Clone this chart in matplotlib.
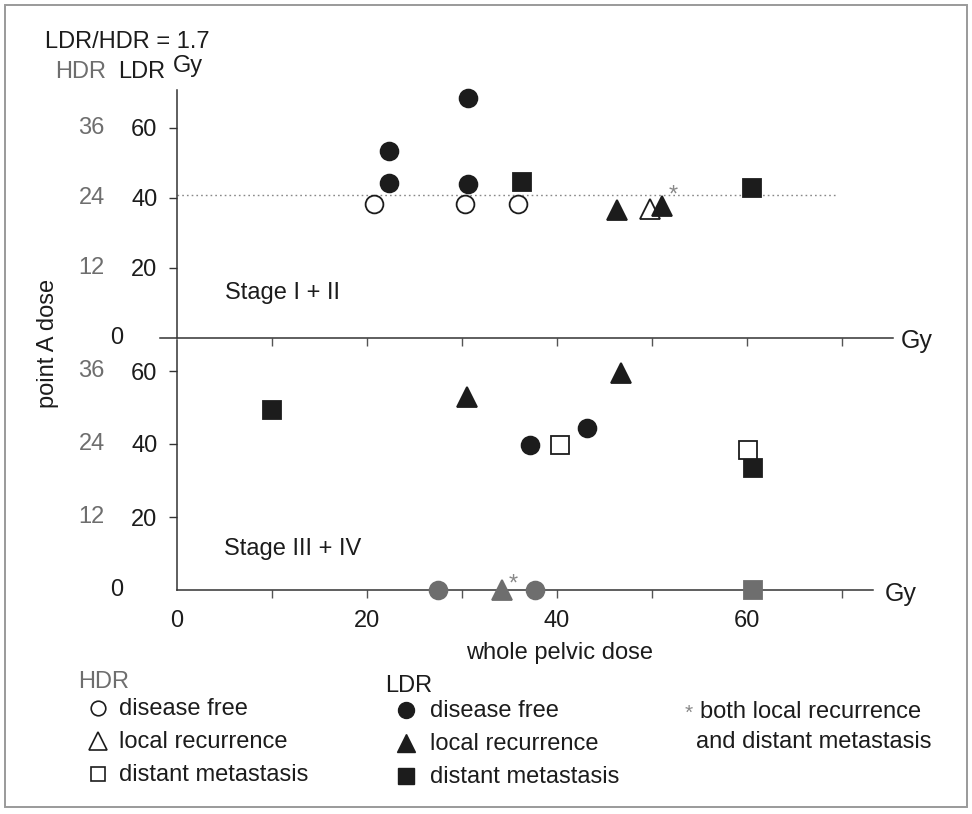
import matplotlib
matplotlib.use("Agg")
import matplotlib.pyplot as plt
from matplotlib.patches import Rectangle

plt.rcParams['font.family'] = ['Liberation Sans', 'DejaVu Sans']

# ---------------- data (whole pelvic dose [Gy], point A LDR-equivalent dose [Gy]) ----------------
# Stage I + II
s12_hdr_free_x = [20.7, 30.3, 35.9]
s12_hdr_free_y = [38.3, 38.3, 38.3]
s12_hdr_local_x = [49.8]
s12_hdr_local_y = [36.9]
s12_ldr_free_x = [22.3, 22.3, 30.6, 30.6]
s12_ldr_free_y = [53.4, 44.3, 68.6, 44.0]
s12_ldr_local_x = [46.3, 51.0]
s12_ldr_local_y = [36.6, 37.7]
s12_ldr_meta_x = [36.3, 60.5]
s12_ldr_meta_y = [44.6, 42.9]
s12_both_x = [52.2]
s12_both_y = [40.7]
ratio_line_y = 24 * 1.7          # HDR 24 Gy equivalent in LDR
ratio_line_x = [0, 69.5]

# Stage III + IV
s34_ldr_free_x = [37.2, 43.2]
s34_ldr_free_y = [39.7, 44.5]
s34_ldr_local_x = [30.5, 46.7]
s34_ldr_local_y = [53.0, 59.4]
s34_ldr_meta_x = [10.0, 60.6]
s34_ldr_meta_y = [49.3, 33.5]
s34_hdr_meta_x = [40.3, 60.1]
s34_hdr_meta_y = [39.7, 38.3]
# no point A dose (plotted on axis, grey)
s34_zero_circle_x = [27.5, 37.7]
s34_zero_tri_x = [34.2]
s34_zero_sq_x = [60.6]
s34_both_x = [35.4]
s34_both_y = [1.6]

ldr_ticks = [20, 40, 60]
hdr_ticks = ['12', '24', '36']
x_minor_ticks = [10, 20, 30, 40, 50, 60, 70]
x_label_ticks = [0, 20, 40, 60]

# ---------------- figure ----------------
W, H = 972, 814
fig = plt.figure(figsize=(W / 100, H / 100), dpi=100)


def rect(l, t, r, b):
    return [l / W, 1 - b / H, (r - l) / W, (b - t) / H]


BLACK = '#1c1c1c'
GREY = '#6e6e6e'
FS = 17


def xlim_for(l, r):
    return ((l - 177) / 9.5, (r - 177) / 9.5)


axT = fig.add_axes(rect(150, 80, 900, 345))
axT.set_xlim(*xlim_for(150, 900))
axT.set_ylim((338 - 345) / 3.5, (338 - 80) / 3.5)
axB = fig.add_axes(rect(150, 338, 900, 610))
axB.set_xlim(*xlim_for(150, 900))
axB.set_ylim((590 - 610) / 3.65, (590 - 338) / 3.65)

for ax in (axT, axB):
    ax.patch.set_alpha(0)
    ax.spines['top'].set_visible(False)
    ax.spines['right'].set_visible(False)
    ax.spines['left'].set_position(('data', 0))
    ax.spines['bottom'].set_position(('data', 0))
    for s in ('left', 'bottom'):
        ax.spines[s].set_color('#333333')
        ax.spines[s].set_linewidth(1.1)
    ax.set_yticks(ldr_ticks)
    ax.set_yticklabels([str(t) for t in ldr_ticks], fontsize=FS, color=BLACK)
    ax.tick_params(axis='y', direction='out', length=6, width=1, pad=8, colors='#333333', labelcolor=BLACK)
    ax.tick_params(axis='x', direction='out', length=6, width=1, colors='#555555')
    for t, lab in zip(ldr_ticks, hdr_ticks):
        ax.text(-7.6, t, lab, ha='right', va='center', fontsize=FS, color=GREY)

axT.spines['left'].set_bounds(0, 70.9)
axT.spines['bottom'].set_bounds(-1.8, 75.4)
axT.set_xticks(x_minor_ticks)
axT.set_xticklabels([])
axB.spines['left'].set_bounds(0, (590 - 340) / 3.65)
axB.spines['bottom'].set_bounds(0, 73.3)
axB.set_xticks(x_minor_ticks)
axB.set_xticklabels([])

axT.text(-6.3, 0, '0', ha='center', va='center', fontsize=FS, color=BLACK)
axB.text(-6.3, 0, '0', ha='center', va='center', fontsize=FS, color=BLACK)
for xv in x_label_ticks:
    axB.text(xv, -8.4, str(xv), ha='center', va='center', fontsize=FS, color=BLACK)
axT.text(76.2, -0.9, 'Gy', ha='left', va='center', fontsize=FS + 1, color=BLACK)
axB.text(74.5, -1.1, 'Gy', ha='left', va='center', fontsize=FS + 1, color=BLACK)
axT.text(5.1, 12.9, 'Stage I + II', ha='left', va='center', fontsize=FS, color=BLACK)
axB.text(4.9, 11.2, 'Stage III + IV', ha='left', va='center', fontsize=FS, color=BLACK)

MS_C, MS_S, MS_T = 12.8, 12.4, 14.5
EW = 1.3

axT.plot(ratio_line_x, [ratio_line_y] * 2, linestyle=(0, (1.2, 2.2)), color='#888888', lw=1.0, zorder=1)


def pts(ax, x, y, marker, ms, fill, edge=BLACK, z=3):
    ax.plot(x, y, linestyle='none', marker=marker, markersize=ms,
            markerfacecolor=fill, markeredgecolor=edge, markeredgewidth=EW, zorder=z, clip_on=False)


pts(axT, s12_hdr_free_x, s12_hdr_free_y, 'o', MS_C, 'white')
pts(axT, s12_ldr_free_x, s12_ldr_free_y, 'o', MS_C, BLACK)
pts(axT, s12_ldr_meta_x, s12_ldr_meta_y, 's', MS_S, BLACK)
pts(axT, s12_hdr_local_x, s12_hdr_local_y, '^', MS_T, 'white')
pts(axT, s12_ldr_local_x, s12_ldr_local_y, '^', MS_T, BLACK, z=4)
for x, y in zip(s12_both_x, s12_both_y):
    axT.text(x, y, '*', ha='center', va='center', fontsize=17, color='#888888')

pts(axB, s34_ldr_meta_x, s34_ldr_meta_y, 's', MS_S, BLACK, z=3)
pts(axB, s34_hdr_meta_x, s34_hdr_meta_y, 's', MS_S, 'white', z=4)
pts(axB, s34_ldr_local_x, s34_ldr_local_y, '^', MS_T, BLACK)
pts(axB, s34_ldr_free_x, s34_ldr_free_y, 'o', MS_C, BLACK)
pts(axB, s34_zero_circle_x, [0] * len(s34_zero_circle_x), 'o', MS_C, GREY, edge=GREY)
pts(axB, s34_zero_tri_x, [0] * len(s34_zero_tri_x), '^', MS_T, GREY, edge=GREY)
pts(axB, s34_zero_sq_x, [0] * len(s34_zero_sq_x), 's', MS_S, GREY, edge=GREY)
for x, y in zip(s34_both_x, s34_both_y):
    axB.text(x, y, '*', ha='center', va='center', fontsize=17, color='#888888')

# ---------------- overlay for free text & legend (pixel coordinates) ----------------
ov = fig.add_axes([0, 0, 1, 1])
ov.set_xlim(0, W)
ov.set_ylim(H, 0)
ov.axis('off')
ov.patch.set_alpha(0)

ov.add_patch(Rectangle((5, 5), 962, 802, fill=False, edgecolor='#9a9a9a', lw=1.4))

ov.text(45, 42, 'LDR/HDR = 1.7', ha='left', va='center', fontsize=FS, color=BLACK)
ov.text(55, 72, 'HDR', ha='left', va='center', fontsize=FS, color=GREY)
ov.text(118, 72, 'LDR', ha='left', va='center', fontsize=FS, color=BLACK)
ov.text(173, 66, 'Gy', ha='left', va='center', fontsize=FS, color=BLACK)
ov.text(48, 343, 'point A dose', ha='center', va='center', rotation=90, fontsize=FS, color=BLACK)
ov.text(560, 653, 'whole pelvic dose', ha='center', va='center', fontsize=FS, color=BLACK)

LFS = 17
ov.text(78, 682, 'HDR', ha='left', va='center', fontsize=LFS, color=GREY)
ov.text(385, 686, 'LDR', ha='left', va='center', fontsize=LFS, color=BLACK)
rows = [709, 742, 775]
labels = ['disease free', 'local recurrence', 'distant metastasis']
markers = ['o', '^', 's']
lsizes = [10.5, 12.5, 10.5]
for yy, lab, mk, ms in zip(rows, labels, markers, lsizes):
    ov.plot([98], [yy - 1], marker=mk, markersize=ms, markerfacecolor='white',
            markeredgecolor=BLACK, markeredgewidth=1.2, linestyle='none')
    ov.text(119, yy, lab, ha='left', va='center', fontsize=LFS, color=BLACK)
    ov.plot([406], [yy + 1], marker=mk, markersize=ms + 1, markerfacecolor=BLACK,
            markeredgecolor=BLACK, markeredgewidth=1.0, linestyle='none')
    ov.text(430, yy + 2, lab, ha='left', va='center', fontsize=LFS, color=BLACK)

ov.text(689, 713, '*', ha='center', va='center', fontsize=15, color='#888888')
ov.text(700, 712, 'both local recurrence', ha='left', va='center', fontsize=LFS, color=BLACK)
ov.text(696, 742, 'and distant metastasis', ha='left', va='center', fontsize=LFS, color=BLACK)

fig.savefig('out.png', dpi=100)
